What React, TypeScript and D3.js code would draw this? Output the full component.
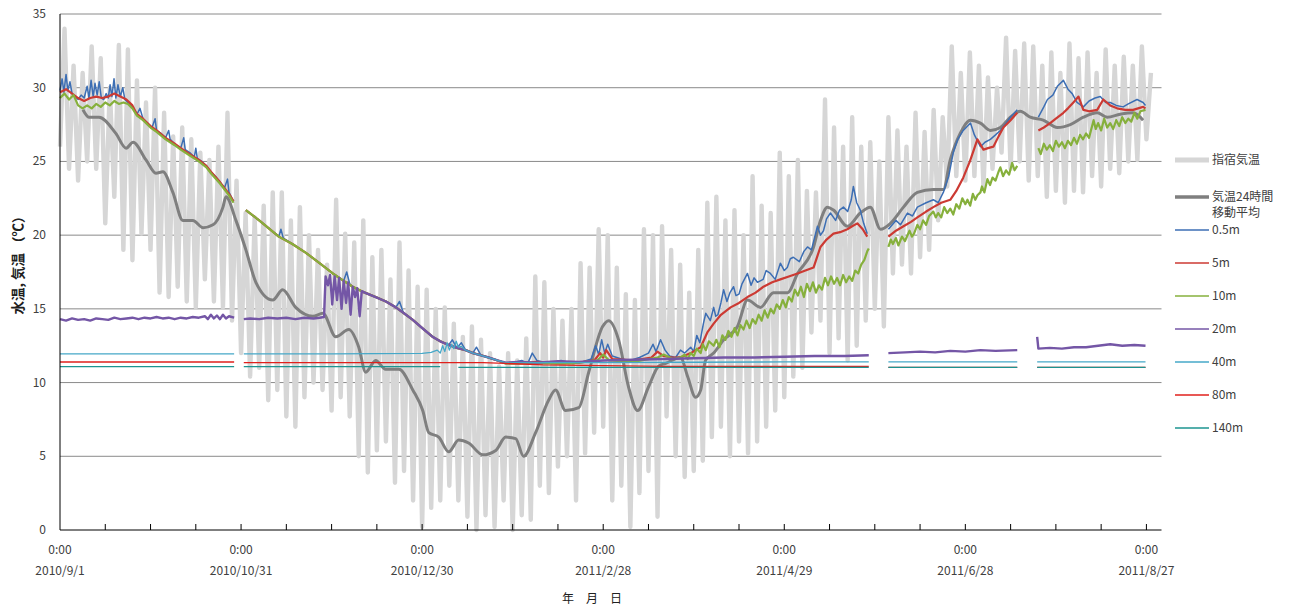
import React, { useEffect, useRef } from "react";
import * as d3 from "d3";

// x values are days counted from 2010/9/1 0:00, null marks a break in logging
type Pt = [number, number | null];

// 指宿気温: one low and one high per 3-day step
const airHigh = [
    34, 31.5, 31, 32.8, 32, 30, 32.9, 32.6, 30.5, 29,
    30, 28.3, 26.7, 27.3, 26.5, 25.6, 25.1, 26, 28.3, 23.7,
    21.5, 21.2, 22, 22.9, 22.9, 21, 21.9, 20, 19, 18,
    22.4, 20.1, 19.5, 21, 18.5, 19, 17, 19.5, 17.6, 16.5,
    16.3, 15, 15.1, 14, 13.1, 13.8, 12.9, 12, 11.1, 12,
    11.5, 13, 17.2, 16.8, 15, 14.2, 15, 18.1, 17.8, 20.4,
    20, 17.8, 16, 15.6, 20.4, 20, 20.6, 19, 18, 16.1,
    19, 22.2, 22.6, 21, 21.7, 20, 24, 22, 21.5, 25.6,
    24, 25.1, 23, 22.9, 29.2, 27.3, 26, 28, 26, 26.3,
    25, 28, 27.1, 26, 28.3, 27, 28.5, 28, 32.8, 31,
    32.4, 31.5, 30.7, 30, 33.4, 32.5, 33, 32.8, 31.5, 32.4,
    31, 33, 32, 32.4, 31, 32.6, 31.5, 32.1, 31.5, 32.8,
    31,
];
const airLow = [
    26, 24.5, 23.7, 25, 24.5, 20.8, 22.6, 19, 18.3, 20.1,
    19, 16.1, 15.8, 16.5, 15.5, 15.1, 17, 15.5, 15.1, 14.2,
    12, 10.4, 11, 8.8, 9.5, 7.7, 7, 9, 10, 9.5,
    8.1, 9, 7.7, 5, 3.9, 5.4, 6, 3.2, 4, 2,
    0.2, 1.5, 2, 3, 2, 0.9, 0, 1, 0.2, 2,
    0, 1, 0.7, 3, 2.5, 4.3, 5, 2, 5.2, 6.6,
    7, 2, 3, 0.2, 2.5, 4, 0.9, 7.7, 5, 3.6,
    4, 4.7, 6.3, 7, 5, 6, 5.2, 6, 7, 8.1,
    9, 10.4, 11, 13.4, 14.2, 12, 13, 11.5, 12.5, 14.2,
    15, 13.8, 17.4, 18, 17.4, 18.5, 19, 21, 23.3, 24,
    23.7, 24, 23.3, 24.5, 25.6, 24.5, 25, 23.7, 24, 22.6,
    23, 22.2, 23, 22.9, 24, 23.3, 24.5, 24.2, 25, 25.1,
    26.5,
];

// 気温24時間移動平均
const movingAvg: Pt[] = [
    [7.6, 28.5], [9.6, 28.0], [12.9, 28.0], [18.5, 26.9], [21.9, 25.9], [24.2, 26.3],
    [28.5, 25.1], [31.8, 24.2], [34.1, 24.3], [37.4, 22.9], [40.7, 21.0], [44, 21.0],
    [47.4, 20.5], [50.7, 20.7], [54, 21.9], [55, 22.6], [58.3, 21.0], [61.6, 19.0],
    [64.9, 16.8], [70.5, 15.6], [73.8, 16.3], [78.1, 15.1], [83.8, 14.5], [87.1, 14.7],
    [91.4, 13.1], [95.7, 13.6], [99, 12.4], [101.3, 10.7], [104.6, 11.5], [107.9, 10.9],
    [112.3, 10.9], [116.9, 9.5], [120.2, 8.1], [122.2, 6.6], [125.5, 6.3], [128.8, 5.3],
    [132.1, 6.1], [135.4, 5.9], [140.1, 5.1], [144.4, 5.4], [147.7, 6.3], [151, 6.2],
    [153.6, 5.0], [157.6, 6.6], [161.9, 8.8], [164.2, 9.5], [167.5, 8.1], [171.9, 8.3],
    [175.2, 10.7], [179.8, 13.8], [181.8, 14.2], [185.1, 12.9], [188.4, 9.7], [191.4, 8.1],
    [195, 9.7], [198.3, 11.1], [200.7, 11.3], [205.6, 11.7], [208, 10.4], [210.6, 9.0],
    [212.3, 9.5], [213.9, 11.5], [216.6, 12.0], [219.9, 12.9], [224.5, 13.8], [227.8, 15.6],
    [232.1, 15.1], [236.4, 16.1], [241.1, 16.1], [244.4, 17.4], [249.7, 19.2], [252, 21.0],
    [254.3, 21.9], [256.3, 21.7], [260.9, 20.6], [265.2, 21.5], [268.5, 21.9], [271.9, 20.4],
    [275.2, 20.8], [279.5, 21.9], [284.1, 22.9], [289.4, 23.1], [292.7, 23.1], [295, 25.1],
    [298.3, 26.9], [301.7, 27.8], [305, 27.6], [308.3, 27.1], [311.6, 27.3], [314.9, 28.0],
    [318.2, 28.4], [321.5, 28.0], [325.8, 27.8], [330.5, 27.3], [334.8, 27.5], [339.1, 28.0],
    [343.7, 28.3], [347, 28.0], [351.3, 28.2], [355.6, 28.3], [358.9, 27.8],
];

// 0.5m
const depth05: Pt[] = [
    [0, 29.8], [0.7, 30.6], [1.3, 29.7], [2, 30.9], [2.6, 29.8], [3.3, 30.4], [4, 29.6],
    [5, 29.4], [6, 29.2], [7, 29.5], [8, 29.3], [9, 30.1], [9.6, 29.3], [10.3, 30.5],
    [11, 29.4], [11.6, 30.3], [12.3, 29.5], [13, 30.4], [13.7, 29.3], [14.5, 29.2],
    [15.3, 29.6], [16, 29.3], [16.6, 30.2], [17.2, 29.4], [17.9, 30.6], [18.5, 29.3],
    [19.2, 30.2], [20, 29.4], [20.8, 30.0], [21.5, 29.2], [22.5, 29.0], [24, 28.7],
    [25.5, 28.2], [26.5, 28.6], [27.5, 27.9], [29, 27.6], [30.5, 27.3], [31.5, 27.9],
    [32, 27.1], [33.5, 26.9], [35, 26.6], [36, 27.1], [36.5, 26.5], [38, 26.2], [40, 25.9],
    [41, 26.6], [41.5, 25.8], [43, 25.6], [44.5, 25.3], [45, 25.9], [45.5, 25.2], [47, 25.0],
    [48.5, 24.7], [50, 24.3], [51.5, 24.0], [53, 23.6], [54.5, 23.2], [55.5, 23.8], [56, 22.9],
    [57.5, 22.3], [59, null],
    [61.6, 21.7], [66, 21.0], [72.5, 19.9], [73.2, 20.4], [74, 19.8], [77, 19.4], [81.5, 18.8],
    [86, 18.1], [90.4, 17.4], [94, 16.9], [95, 17.5], [96, 16.7], [97, 16.5], [101, 16.1],
    [104.6, 15.8], [108, 15.5], [111.3, 15.1], [112.5, 15.5], [113.5, 14.9], [114, 14.7],
    [116.9, 14.25], [120, 13.7], [123.5, 13.1], [126, 12.8], [128.8, 12.55], [130, 12.9],
    [131.5, 12.35], [133, 12.7], [134.4, 12.2], [136.8, 12.0], [138, 12.4], [139.5, 11.85],
    [142, 11.7], [145, 11.5], [147.7, 11.3], [150, 11.35], [153, 11.5], [155, 11.3],
    [156.5, 12.0], [158, 11.5], [160, 11.4], [163, 11.3], [166, 11.5], [170, 11.3],
    [173, 11.4], [176, 11.6], [177.5, 12.5], [178.5, 11.9], [179.5, 12.9], [180.5, 12.0],
    [181.5, 12.6], [183, 11.8], [186, 11.6], [189, 11.5], [192, 11.7], [195, 12.0],
    [196.5, 12.6], [197.5, 12.1], [199, 12.9], [200.5, 12.2], [202, 11.8], [204, 11.7],
    [205.6, 12.2], [207, 12.0], [209, 12.4], [210, 12.1], [211, 13.2], [212, 12.7],
    [213.2, 14.0], [214, 14.7], [215.5, 14.2], [216.6, 15.1], [217.3, 14.5], [218, 14.6],
    [219, 15.4], [219.9, 16.3], [221, 15.5], [222, 16.1], [223.2, 16.5], [224, 15.9],
    [225, 16.0], [226, 16.7], [227.8, 17.4], [229, 16.6], [230, 17.1], [231.1, 16.8],
    [233, 17.0], [234, 17.6], [235.4, 17.4], [237, 17.0], [238.7, 18.1], [240, 17.6],
    [241, 17.8], [242, 18.4], [243, 18.5], [245, 18.2], [246.5, 18.9], [247.7, 19.2],
    [249, 19.0], [250, 19.8], [251, 20.6], [252, 20.0], [253, 20.3], [254, 21.1],
    [255.3, 21.5], [257, 21.0], [258.3, 21.7], [259.6, 21.9], [261, 21.6], [262.2, 22.4],
    [262.9, 23.3], [264, 22.2], [265.2, 21.7], [266.3, 20.8], [267.5, 20.1], [268.5, null],
    [274.5, 20.4], [277, 21.0], [278.5, 20.7], [280.8, 21.5], [282.5, 21.3], [284.1, 21.9],
    [287, 22.2], [289.4, 22.4], [291, 22.2], [292.7, 22.9], [294.5, 24.0], [296, 25.6],
    [297.5, 26.5], [299.3, 27.1], [301.7, 27.6], [303, 26.8], [305, 26.0], [306.5, 26.3],
    [308.3, 26.5], [310, 26.8], [311.6, 27.1], [313.5, 27.6], [314.9, 28.0], [317.2, 28.5],
    [318, null],
    [324.2, 28.0], [326, 28.7], [327.2, 29.2], [329, 29.5], [330.5, 30.1], [332.5, 30.5],
    [334, 29.9], [335.4, 29.6], [337, 29.0], [339.1, 28.7], [341, 29.1], [343, 29.3],
    [344.7, 29.4], [346.5, 29.0], [348, 29.0], [350, 28.8], [352.3, 28.7], [354, 28.9],
    [356.9, 29.2], [358.9, 29.0], [359.7, 28.8],
];

// 5m
const depth5: Pt[] = [
    [0, 29.7], [2, 29.9], [4, 29.6], [6, 29.3], [8, 29.1], [10, 29.3], [12, 29.4], [14, 29.3],
    [16, 29.4], [18, 29.6], [20, 29.4], [22, 29.2], [24, 28.8], [25.5, 28.2], [27.5, 27.9],
    [30, 27.4], [32, 27.1], [35, 26.6], [38, 26.2], [40, 25.9], [43, 25.5], [46, 25.1],
    [48.5, 24.7], [50, 24.3], [53, 23.6], [56, 22.8], [57.5, 22.3], [59, null],
    [61.6, 21.7], [66, 21.0], [72.5, 19.9], [77, 19.4], [81.5, 18.8], [86, 18.1], [90.4, 17.4],
    [94, 16.9], [97, 16.5], [101, 16.1], [104.6, 15.8], [108, 15.5], [111.3, 15.1], [114, 14.7],
    [116.9, 14.25], [120, 13.7], [123.5, 13.1], [126, 12.8], [128.8, 12.55], [131.5, 12.35],
    [134.4, 12.2], [136.8, 12.0], [139.5, 11.85], [142, 11.7], [145, 11.5], [147.7, 11.3],
    [152, 11.3], [158, 11.4], [165, 11.3], [172, 11.35], [177, 11.5], [179, 12.0], [180, 11.7],
    [181, 12.2], [183, 11.6], [190, 11.5], [196, 11.7], [198, 12.1], [200, 11.8], [203, 11.7],
    [205.6, 11.7], [209, 12.0], [212.3, 12.4], [214.5, 13.4], [216.6, 14.0], [219, 14.6],
    [222.2, 15.1], [225, 15.4], [227.8, 15.8], [230.5, 16.1], [233.1, 16.5], [236, 16.8],
    [238.7, 17.0], [241.5, 17.2], [244.4, 17.4], [247, 17.6], [249.7, 17.8], [251, 18.6],
    [252, 19.2], [254, 19.7], [256.3, 20.1], [258.5, 20.2], [260.9, 20.4], [262.5, 20.6],
    [264.2, 20.8], [266, 20.4], [267.5, 19.9], [268.5, null],
    [274.5, 19.9], [277, 20.3], [279.5, 20.6], [282, 20.9], [284.1, 21.2], [287, 21.6],
    [289.4, 21.9], [292, 22.2], [295, 22.4], [297, 23.0], [299.3, 23.9], [301.5, 25.0],
    [304, 26.5], [306, 25.8], [307.5, 25.9], [309.3, 26.0], [311, 26.7], [312.6, 27.3],
    [315, 27.8], [317.2, 28.3], [318, null],
    [324.2, 27.1], [326, 27.3], [328.1, 27.6], [330, 27.9], [332.5, 28.3], [334, 28.6],
    [335.8, 29.0], [337.5, 29.4], [339.1, 28.5], [341, 28.4], [343.7, 28.5], [345.7, 29.2],
    [348, 28.8], [350.3, 28.6], [353, 28.5], [355.6, 28.5], [358.9, 28.7], [359.7, 28.6],
];

// 10m
const depth10: Pt[] = [
    [0, 29.3], [1.5, 29.6], [3, 29.2], [4.5, 29.5], [6, 28.8], [7.5, 28.6], [9, 28.8],
    [10.5, 28.6], [12, 28.9], [13.5, 28.7], [15, 29.0], [16.5, 28.8], [18, 29.1], [19.5, 28.9],
    [21, 29.0], [22.5, 28.9], [24, 28.6], [25.5, 28.1], [27.5, 27.8], [30, 27.3], [32, 27.0],
    [35, 26.5], [38, 26.1], [40, 25.8], [43, 25.4], [46, 25.0], [48.5, 24.6], [50, 24.2],
    [53, 23.5], [56, 22.7], [57.5, 22.2], [59, null],
    [61.6, 21.7], [66, 21.0], [72.5, 19.9], [77, 19.4], [81.5, 18.8], [86, 18.1], [90.4, 17.4],
    [94, 16.9], [97, 16.5], [101, 16.1], [104.6, 15.8], [108, 15.5], [111.3, 15.1], [114, 14.7],
    [116.9, 14.25], [120, 13.7], [123.5, 13.1], [126, 12.8], [128.8, 12.55], [131.5, 12.35],
    [134.4, 12.2], [136.8, 12.0], [139.5, 11.85], [142, 11.7], [145, 11.5], [147.7, 11.3],
    [150, 11.3], [160, 11.3], [170, 11.3], [178, 11.5], [180, 11.9], [182, 11.5], [190, 11.4],
    [198, 11.7], [200, 11.9], [203, 11.6],
    [205.6, 11.7], [207, 11.9], [208, 11.6], [209, 12.0], [210, 11.8], [211, 12.3],
    [212.3, 12.0], [213, 12.6], [214, 12.2], [215, 12.8], [216.6, 12.5], [217.5, 12.9],
    [218.5, 12.4], [219.5, 13.2], [220.5, 12.9], [221.5, 13.5], [222.5, 13.1], [223.5, 13.7],
    [224.5, 13.2], [225.5, 13.9], [226.5, 13.6], [227.5, 14.2], [228.5, 13.7], [229.5, 14.3],
    [230.5, 14.0], [231.5, 14.6], [232.5, 14.2], [233.5, 14.9], [234.5, 14.4], [235.5, 15.0],
    [236.5, 14.7], [237.5, 15.3], [238.5, 15.0], [239.5, 15.6], [240.5, 15.1], [241.5, 15.8],
    [242.5, 15.5], [243.5, 16.3], [244.5, 15.9], [245.5, 16.5], [246.5, 15.8], [247.5, 16.7],
    [248.5, 16.2], [249.5, 16.8], [250.5, 16.1], [251.5, 16.6], [252.5, 16.3], [253.5, 17.1],
    [254.5, 16.6], [255.5, 17.2], [256.5, 16.7], [257.5, 17.1], [258.5, 16.6], [259.5, 17.3],
    [260.5, 16.8], [261.5, 17.2], [262.5, 16.9], [263.5, 17.6], [264.5, 17.4], [265.5, 18.0],
    [266.5, 18.3], [267.5, 18.9], [268, 19.1], [268.5, null],
    [274.5, 19.2], [275.3, 19.7], [276, 19.4], [277, 19.8], [277.8, 19.3], [279, 19.9],
    [280, 19.6], [281.5, 20.3], [282.3, 19.9], [283, 20.1], [284.1, 20.7], [285, 20.4],
    [286, 21.0], [287, 20.7], [288, 21.3], [289.4, 21.6], [290.2, 21.2], [291, 21.5],
    [292, 21.2], [293, 21.9], [294, 21.5], [295, 21.8], [296, 21.4], [297, 22.1],
    [298, 21.8], [299, 22.5], [300, 22.1], [300.7, 22.4], [301.6, 22.0], [302.5, 22.8],
    [303.3, 22.4], [304, 22.7], [305, 22.9], [305.5, 23.3], [306.3, 22.9], [307.3, 23.8],
    [308.2, 23.4], [309, 23.9], [310, 23.7], [311, 24.3], [311.6, 24.6], [312.5, 24.0],
    [313.5, 24.4], [314.5, 24.1], [315.5, 24.9], [316.3, 24.4], [317.2, 24.7], [318, null],
    [324.2, 25.9], [325, 25.5], [326, 26.2], [327, 25.8], [328, 26.1], [329, 25.7],
    [330, 26.4], [331, 26.0], [332, 26.3], [333, 25.9], [334, 26.4], [335, 26.1],
    [336, 26.6], [337, 26.2], [338, 26.8], [339, 26.5], [340, 26.9], [341, 26.6],
    [342.5, 27.8], [343.2, 27.2], [344, 27.6], [345, 27.1], [346, 27.9], [347, 27.3],
    [348, 27.6], [349, 27.2], [350, 27.8], [351, 27.4], [352, 28.0], [353, 27.6],
    [354, 27.9], [355, 27.7], [356, 28.3], [357, 27.9], [358, 28.4], [359.7, 28.5],
];

// 20m
const depth20: Pt[] = [
    [0, 14.3], [2, 14.2], [4, 14.35], [6, 14.25], [8, 14.3], [10, 14.2], [12, 14.35],
    [14, 14.3], [16, 14.25], [18, 14.4], [20, 14.3], [22, 14.35], [24, 14.4], [26, 14.3],
    [28, 14.4], [30, 14.35], [32, 14.45], [34, 14.35], [36, 14.4], [38, 14.3], [40, 14.4],
    [42, 14.35], [44, 14.45], [46, 14.4], [48, 14.5], [49, 14.3], [50, 14.6], [51, 14.35],
    [52, 14.55], [53, 14.3], [54, 14.6], [55, 14.35], [56, 14.5], [57.7, 14.4], [59, null],
    [60.9, 14.3], [63, 14.35], [66, 14.3], [69, 14.4], [72, 14.35], [75, 14.4], [78, 14.3],
    [81, 14.4], [84, 14.35], [86, 14.4], [87.5, 14.45], [88, 17.2], [88.8, 16.6], [89.5, 17.3],
    [90.2, 15.3], [91, 17.2], [91.8, 15.6], [92.5, 17.1], [93.3, 15.0], [94, 16.9], [94.8, 15.4],
    [95.5, 16.8], [96.3, 14.6], [97, 16.5], [97.8, 15.8], [98.5, 16.4], [99.3, 14.5], [100, 16.2],
    [101, 16.1], [104.6, 15.8], [108, 15.5], [111.3, 15.1], [114, 14.7], [116.9, 14.25],
    [120, 13.7], [123.5, 13.1], [126, 12.8], [128.8, 12.55], [131.5, 12.35], [134.4, 12.2],
    [136.8, 12.0], [139.5, 11.85], [142, 11.7], [145, 11.5], [147.7, 11.35], [152, 11.4],
    [158, 11.35], [165, 11.45], [172, 11.4], [180, 11.5], [190, 11.55], [200, 11.6],
    [210, 11.65], [220, 11.7], [230, 11.7], [240, 11.75], [250, 11.8], [260, 11.8],
    [268, 11.85], [268.5, null],
    [274.5, 12.0], [280, 12.05], [285, 12.1], [290, 12.05], [295, 12.15], [300, 12.1],
    [305, 12.2], [310, 12.15], [317.2, 12.2], [318, null],
    [323.8, 13.1], [324.2, 12.3], [328, 12.35], [332, 12.3], [336, 12.4], [340, 12.4],
    [344, 12.5], [348, 12.6], [352, 12.5], [356, 12.55], [359.7, 12.5],
];

// 40m
const depth40: Pt[] = [
    [0, 11.95], [57.7, 11.95], [59, null],
    [60.9, 11.95], [90, 11.95], [120, 11.98], [123, 12.05], [125, 12.2], [126, 12.0],
    [126.8, 12.5], [127.5, 12.1], [128.3, 12.7], [129, 12.2], [129.8, 12.6], [130.5, 12.3],
    [131.3, 12.8], [132, 12.4], [133, 12.45], [134.4, 12.2], [136.8, 12.0], [139.5, 11.85],
    [142, 11.7], [145, 11.5], [147.7, 11.35], [155, 11.35], [180, 11.35], [210, 11.38],
    [240, 11.4], [268, 11.4], [268.5, null],
    [274.5, 11.4], [317.2, 11.4], [318, null],
    [323.8, 11.4], [359.7, 11.4],
];

// 80m
const depth80: Pt[] = [
    [0, 11.4], [57.7, 11.4], [59, null],
    [60.9, 11.35], [140, 11.35], [147.7, 11.3], [160, 11.2], [200, 11.1], [268, 11.1], [268.5, null],
    [274.5, 11.03], [317.2, 11.03], [318, null],
    [323.8, 11.03], [359.7, 11.03],
];

// 140m
const depth140: Pt[] = [
    [0, 11.08], [57.7, 11.08], [59, null],
    [60.9, 11.08], [126, 11.08], [127, null],
    [132, 11.03], [268, 11.03], [268.5, null],
    [274.5, 11.03], [317.2, 11.03], [318, null],
    [323.8, 11.03], [359.7, 11.03],
];

const yTicks = [0, 5, 10, 15, 20, 25, 30, 35];
const xLabelDays = [0, 60, 120, 180, 240, 300, 360];
const xDateLabels = [
    "2010/9/1",
    "2010/10/31",
    "2010/12/30",
    "2011/2/28",
    "2011/4/29",
    "2011/6/28",
    "2011/8/27",
];

const series = [
    { name: "0.5m", data: depth05, color: "#3c6eb4", width: 1.5 },
    { name: "5m", data: depth5, color: "#cc3a33", width: 2.2 },
    { name: "10m", data: depth10, color: "#86b03c", width: 2.2 },
    { name: "20m", data: depth20, color: "#7456a6", width: 2.4 },
    { name: "40m", data: depth40, color: "#46a8c8", width: 1.3 },
    { name: "80m", data: depth80, color: "#e0201c", width: 1.4 },
    { name: "140m", data: depth140, color: "#1c9490", width: 1.3 },
];

const FONT = "'Noto Sans CJK JP', 'Noto Sans', sans-serif";

const App = () => {
    const svgRef = useRef<SVGSVGElement>(null);

    useEffect(() => {
        const width = 1296;
        const height = 610;
        const svg = d3.select(svgRef.current);
        svg.selectAll("*").remove();
        svg.attr("width", width).attr("height", height);

        svg.append("rect")
            .attr("width", width)
            .attr("height", height)
            .attr("fill", "#ffffff");

        const x = d3.scaleLinear().domain([0, 365]).range([60, 1161.5]);
        const y = d3.scaleLinear().domain([0, 35]).range([530, 14]);

        // horizontal gridlines
        svg.append("g")
            .selectAll("line")
            .data(yTicks.filter((t) => t > 0))
            .join("line")
            .attr("x1", x(0))
            .attr("x2", x(365))
            .attr("y1", (d) => y(d))
            .attr("y2", (d) => y(d))
            .attr("stroke", "#8a8a8a")
            .attr("stroke-width", 1);

        const line = d3
            .line<Pt>()
            .defined((d) => d[1] !== null)
            .x((d) => x(d[0]))
            .y((d) => y(d[1] as number));

        // air temperature as a low/high zigzag
        const airPts: Pt[] = airHigh.flatMap((h, i) => [
            [i * 3, airLow[i]] as Pt,
            [i * 3 + 1.5, h] as Pt,
        ]);
        svg.append("path")
            .attr("d", line(airPts))
            .attr("fill", "none")
            .attr("stroke", "#d6d6d6")
            .attr("stroke-width", 4.4)
            .attr("stroke-linejoin", "round");

        svg.append("path")
            .attr("d", line.curve(d3.curveMonotoneX)(movingAvg))
            .attr("fill", "none")
            .attr("stroke", "#7f7f7f")
            .attr("stroke-width", 3);
        line.curve(d3.curveLinear);

        series.forEach((s) => {
            svg.append("path")
                .attr("d", line(s.data))
                .attr("fill", "none")
                .attr("stroke", s.color)
                .attr("stroke-width", s.width)
                .attr("stroke-linejoin", "round");
        });

        // axes
        svg.append("line")
            .attr("x1", x(0))
            .attr("x2", x(0))
            .attr("y1", y(35))
            .attr("y2", y(0))
            .attr("stroke", "#000");
        svg.append("line")
            .attr("x1", x(0))
            .attr("x2", x(365))
            .attr("y1", y(0))
            .attr("y2", y(0))
            .attr("stroke", "#000");

        svg.append("g")
            .selectAll("line")
            .data(d3.range(15, 361, 15))
            .join("line")
            .attr("x1", (d) => x(d))
            .attr("x2", (d) => x(d))
            .attr("y1", y(0))
            .attr("y2", y(0) - 6)
            .attr("stroke", "#000");

        svg.append("g")
            .selectAll("text")
            .data(yTicks)
            .join("text")
            .attr("x", 46)
            .attr("y", (d) => y(d) + 4)
            .attr("text-anchor", "end")
            .attr("font-family", FONT)
            .attr("font-size", 12)
            .attr("fill", "#404040")
            .text((d) => d);

        const xl = svg.append("g")
            .selectAll("g")
            .data(xLabelDays)
            .join("g")
            .attr("transform", (d) => `translate(${x(d)},0)`);
        xl.append("text")
            .attr("y", 554)
            .attr("text-anchor", "middle")
            .attr("font-family", FONT)
            .attr("font-size", 12)
            .attr("fill", "#404040")
            .text("0:00");
        xl.append("text")
            .attr("y", 575)
            .attr("text-anchor", "middle")
            .attr("font-family", FONT)
            .attr("font-size", 12)
            .attr("fill", "#404040")
            .text((d, i) => xDateLabels[i]);

        svg.append("text")
            .attr("x", 592)
            .attr("y", 603)
            .attr("text-anchor", "middle")
            .attr("font-family", FONT)
            .attr("font-size", 12)
            .attr("fill", "#202020")
            .text("年　月　日");

        svg.append("text")
            .attr("transform", "translate(23,262) rotate(-90)")
            .attr("text-anchor", "middle")
            .attr("font-family", FONT)
            .attr("font-size", 13.5)
            .attr("font-weight", "bold")
            .attr("fill", "#202020")
            .text("水温, 気温 （℃）");

        // legend
        const lg = svg.append("g").attr("font-family", FONT).attr("font-size", 12).attr("fill", "#404040");
        const legendRows = [
            { label: ["指宿気温"], color: "#d6d6d6", width: 5, y: 160 },
            { label: ["気温24時間", "移動平均"], color: "#7f7f7f", width: 3.5, y: 197 },
            ...series.map((s, i) => ({ label: [s.name], color: s.color, width: 1.3, y: 230 + i * 33 })),
        ];
        legendRows.forEach((r) => {
            lg.append("line")
                .attr("x1", 1175)
                .attr("x2", 1209)
                .attr("y1", r.y)
                .attr("y2", r.y)
                .attr("stroke", r.color)
                .attr("stroke-width", r.width);
            r.label.forEach((t, k) => {
                lg.append("text")
                    .attr("x", 1212)
                    .attr("y", r.y + 4 + k * 16)
                    .text(t);
            });
        });
    }, []);

    return (
        <svg
            ref={svgRef}
            style={{ position: "absolute", left: 0, top: 0 }}
        ></svg>
    );
};

export default App;
